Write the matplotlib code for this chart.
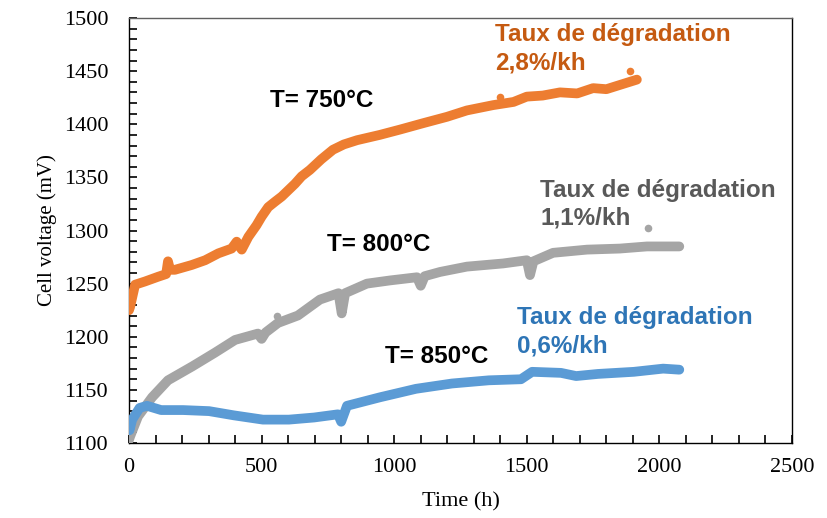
import matplotlib
matplotlib.use("Agg")
import matplotlib.pyplot as plt
from matplotlib.ticker import MultipleLocator

plt.style.use("default")
plt.rcParams.update({
    "xtick.direction": "in", "ytick.direction": "in",
    "xtick.major.size": 6, "xtick.minor.size": 6,
    "ytick.major.size": 6, "ytick.minor.size": 6,
    "xtick.major.width": 1.2, "xtick.minor.width": 1.2,
    "ytick.major.width": 1.2, "ytick.minor.width": 1.2,
    "xtick.color": "black", "ytick.color": "black",
    "xtick.bottom": True, "ytick.left": True,
    "xtick.top": False, "ytick.right": False,
})

# ---- data ----
t750 = [0, 4, 23, 60, 110, 140, 147, 155, 173, 236, 287, 337, 387, 406, 425, 450, 481, 500, 525, 550,
        576, 601, 626, 651, 682, 725, 769, 810, 860, 946, 1022, 1109, 1199, 1274, 1373, 1450, 1500,
        1560, 1625, 1690, 1750, 1800, 1851, 1915]
v750 = [1225, 1228, 1249, 1252, 1256.5, 1259, 1271, 1263, 1263, 1267.5, 1272, 1278.5, 1283, 1289.5,
        1282, 1294, 1305, 1313, 1322, 1327, 1332, 1338, 1344, 1351, 1357, 1367, 1376, 1381, 1385, 1390,
        1395, 1401, 1407, 1413, 1418, 1421, 1426, 1427, 1430, 1429, 1434, 1433, 1437, 1442]
t750_out = [1399, 1889]
v750_out = [1426, 1450]

t800 = [0, 4, 34, 87, 147, 238, 324, 400, 486, 500, 515, 562, 637, 720, 790, 802, 815, 897, 984,
        1086, 1100, 1115, 1173, 1274, 1411, 1500, 1512, 1525, 1599, 1727, 1851, 1953, 2075]
v800 = [1103, 1106, 1125, 1143, 1159, 1172, 1185, 1197, 1203, 1198, 1204, 1213, 1220, 1235, 1241,
        1222, 1241, 1250, 1253, 1256, 1248, 1257, 1261, 1266, 1269, 1272, 1258, 1271, 1279, 1282, 1283,
        1285, 1285]
t800_out = [558, 1957]
v800_out = [1220, 1302]

t850 = [0, 2, 12, 40, 68, 121, 204, 302, 396, 505, 603, 698, 788, 800, 822, 946, 1082, 1218, 1357,
        1478, 1520, 1629, 1686, 1768, 1904, 2014, 2075]
v850 = [1115, 1112, 1122, 1133, 1135, 1131, 1131, 1130, 1126, 1122, 1122, 1124, 1127, 1120, 1135, 1143,
        1151, 1156, 1159, 1160, 1167, 1166, 1163, 1165, 1167, 1170, 1169]

x_ticks = [0, 500, 1000, 1500, 2000, 2500]
y_ticks = [1100, 1150, 1200, 1250, 1300, 1350, 1400, 1450, 1500]

c_or, c_gr, c_bl = "#ED7D31", "#A5A5A5", "#5B9BD5"

fig = plt.figure(figsize=(8.28, 5.18), dpi=100)
ax = fig.add_axes([129 / 828, 1 - 443 / 518, 663 / 828, 425 / 518])

lw = 7.0
for t, v, c in [(t800, v800, c_gr), (t850, v850, c_bl), (t750, v750, c_or)]:
    ax.plot(t, v, color=c, lw=lw, solid_capstyle="round", solid_joinstyle="round", zorder=3)
ax.scatter(t750_out, v750_out, s=30, color=c_or, zorder=3, linewidths=0)
ax.scatter(t800_out, v800_out, s=30, color=c_gr, zorder=3, linewidths=0)

ax.set_xlim(0, 2500)
ax.set_ylim(1100, 1500)
ax.set_xticks(x_ticks)
ax.set_yticks(y_ticks)
ax.xaxis.set_minor_locator(MultipleLocator(100))
ax.yaxis.set_minor_locator(MultipleLocator(10))
serif = "Liberation Serif"
ax.tick_params(which="both", direction="in", length=6, width=1.2, color="black",
               left=True, bottom=True, top=False, right=False, zorder=5)
ax.tick_params(axis="y", which="major", pad=15)
ax.tick_params(axis="x", which="major", pad=11)
for lab in ax.get_xticklabels() + ax.get_yticklabels():
    lab.set_fontfamily(serif)
    lab.set_fontsize(16)
ax.set_xlabel("Time (h)", fontfamily=serif, fontsize=16, labelpad=11)
ax.set_ylabel("Cell voltage (mV)", fontfamily=serif, fontsize=15, labelpad=5)
for s in ax.spines.values():
    s.set_linewidth(1.0)
    s.set_color("black")
ax.spines["top"].set_color("#606060")

sans = "Liberation Sans"
fs = 17.5
ax.text(532, 1422, "T= 750°C", fontfamily=sans, fontweight="bold", fontsize=fs, color="black", va="center")
ax.text(747, 1287, "T= 800°C", fontfamily=sans, fontweight="bold", fontsize=fs, color="black", va="center")
ax.text(965, 1181, "T= 850°C", fontfamily=sans, fontweight="bold", fontsize=fs, color="black", va="center")

ax.text(1380, 1484, "Taux de dégradation", fontfamily=sans, fontweight="bold", fontsize=fs, color="#C55A11", va="center")
ax.text(1380, 1458, "2,8%/kh", fontfamily=sans, fontweight="bold", fontsize=fs, color="#C55A11", va="center")
ax.text(1550, 1338, "Taux de dégradation", fontfamily=sans, fontweight="bold", fontsize=fs, color="#595959", va="center")
ax.text(1550, 1312, "1,1%/kh", fontfamily=sans, fontweight="bold", fontsize=fs, color="#595959", va="center")
ax.text(1463, 1218, "Taux de dégradation", fontfamily=sans, fontweight="bold", fontsize=fs, color="#2E75B6", va="center")
ax.text(1463, 1191, "0,6%/kh", fontfamily=sans, fontweight="bold", fontsize=fs, color="#2E75B6", va="center")

fig.savefig("out.png", dpi=100)
